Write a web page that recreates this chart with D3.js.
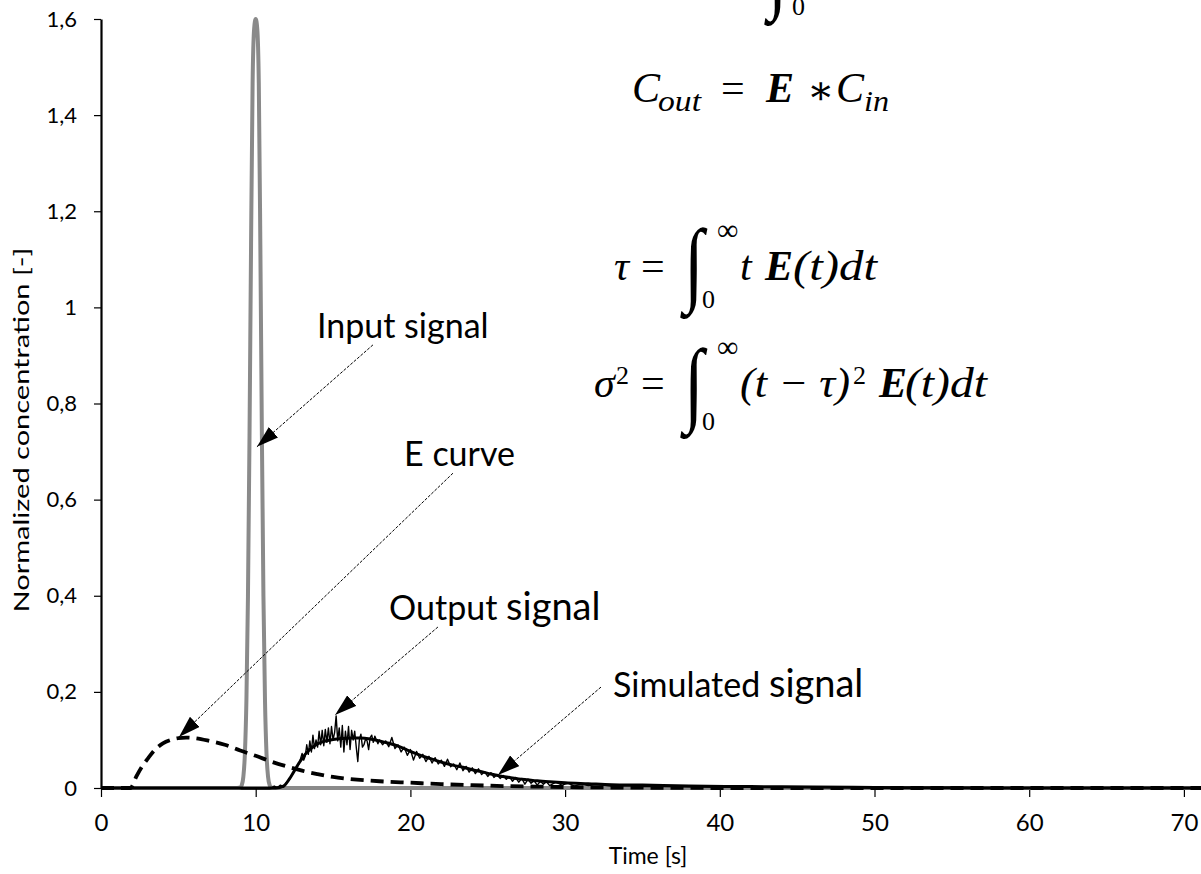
<!DOCTYPE html>
<html><head><meta charset="utf-8">
<script src="https://cdn.jsdelivr.net/npm/d3@7"></script>
<style>
html,body{margin:0;padding:0;background:#fff;}
svg{display:block;}
</style>
</head><body>
<svg id="chart" width="1201" height="874"></svg>
<script>
// ---------- data ----------
const xTicks = [0, 10, 20, 30, 40, 50, 60, 70];
const yTicks = [0, 0.2, 0.4, 0.6, 0.8, 1.0, 1.2, 1.4, 1.6];

// Input signal (grey pulse at t = 10 s)
const inputT = [0, 8.8, 9.0, 9.1, 9.2, 9.3, 9.4, 9.5, 9.6, 9.7, 9.8, 9.9, 10.0, 10.1, 10.2, 10.3, 10.4, 10.5, 10.6, 10.7, 10.8, 10.9, 11.0, 11.2, 80];
const inputV = [0, 0, 0.001, 0.006, 0.023, 0.070, 0.183, 0.399, 0.733, 1.131, 1.467, 1.58, 1.6, 1.58, 1.467, 1.131, 0.733, 0.399, 0.183, 0.070, 0.023, 0.006, 0.001, 0, 0];

// E curve (dashed)
const eT = [0, 1.9, 2.3, 2.7, 3.0, 3.5, 4.0, 4.5, 5.0, 5.5, 6.0, 7.0, 8.0, 9.0, 10, 11, 12, 13, 14, 15, 16, 18, 20, 22, 24, 26, 28, 30, 33, 36, 40, 80];
const eV = [0, 0, 0.025, 0.047, 0.06, 0.08, 0.093, 0.1, 0.104, 0.105, 0.104, 0.098, 0.09, 0.078, 0.067, 0.055, 0.045, 0.036, 0.029, 0.023, 0.019, 0.014, 0.011, 0.008, 0.006, 0.004, 0.003, 0.002, 0.001, 0.0005, 0, 0];

// Simulated signal (thick smooth)
const simT = [0, 11.3, 11.8, 12.3, 12.8, 13.3, 13.8, 14.3, 15, 15.6, 16.2, 16.8, 17.4, 18, 18.6, 19.2, 19.8, 20.4, 21, 21.6, 22.2, 22.8, 23.4, 24, 24.6, 25.2, 25.8, 26.4, 27, 27.6, 28.2, 29, 30, 31.5, 33, 35, 38, 42, 46, 50, 55, 60, 80];
const simV = [0, 0, 0.004, 0.025, 0.052, 0.074, 0.088, 0.096, 0.101, 0.103, 0.104, 0.104, 0.102, 0.098, 0.093, 0.087, 0.079, 0.071, 0.064, 0.058, 0.052, 0.047, 0.043, 0.038, 0.034, 0.029, 0.025, 0.022, 0.019, 0.017, 0.015, 0.013, 0.011, 0.009, 0.007, 0.006, 0.004, 0.003, 0.002, 0.001, 0.0005, 0, 0];

// Output signal (measured, noisy)
const outT = [0, 11.0, 11.2, 11.4, 11.6, 11.8, 12.0, 12.2, 12.4, 12.6, 12.8, 13.0, 13.1, 13.2, 13.3, 13.4, 13.5, 13.6, 13.7, 13.8, 13.9, 14.0, 14.1, 14.2, 14.3, 14.4, 14.5, 14.6, 14.7, 14.8, 14.9, 15.0, 15.1, 15.2, 15.3, 15.4, 15.5, 15.6, 15.7, 15.8, 15.9, 16.0, 16.1, 16.2, 16.3, 16.4, 16.5, 16.6, 16.7, 16.8, 16.9, 17.0, 17.1, 17.2, 17.3, 17.4, 17.5, 17.6, 17.7, 17.8, 17.9, 18.0, 18.2, 18.4, 18.6, 18.8, 19.0, 19.2, 19.4, 19.6, 19.8, 20.0, 20.2, 20.4, 20.6, 20.8, 21.0, 21.2, 21.4, 21.6, 21.8, 22.0, 22.2, 22.4, 22.6, 22.8, 23.0, 23.2, 23.4, 23.6, 23.8, 24.0, 24.2, 24.4, 24.6, 24.8, 25.0, 25.2, 25.4, 25.6, 25.8, 26.0, 26.2, 26.4, 26.6, 26.8, 27.0, 27.2, 27.4, 27.6, 27.8, 28.0, 28.2, 28.4, 28.6, 28.8, 29.0, 29.4, 29.8, 30.2, 30.6, 31.0, 31.5, 32.0, 33.0, 34.0, 35.0, 37.0, 40.0, 45.0, 50.0, 80];
const outV = [0, 0, 0.004, 0.001, 0.006, 0.002, 0.012, 0.018, 0.03, 0.04, 0.05, 0.072, 0.058, 0.066, 0.09, 0.07, 0.098, 0.075, 0.11, 0.082, 0.1, 0.085, 0.118, 0.09, 0.12, 0.088, 0.122, 0.095, 0.125, 0.092, 0.128, 0.1, 0.115, 0.15, 0.098, 0.125, 0.085, 0.13, 0.075, 0.118, 0.09, 0.128, 0.08, 0.12, 0.1, 0.118, 0.085, 0.055, 0.1, 0.112, 0.085, 0.09, 0.102, 0.098, 0.08, 0.105, 0.11, 0.095, 0.108, 0.1, 0.092, 0.1, 0.09, 0.098, 0.086, 0.105, 0.082, 0.09, 0.075, 0.085, 0.068, 0.08, 0.058, 0.076, 0.062, 0.07, 0.055, 0.066, 0.052, 0.063, 0.05, 0.058, 0.045, 0.06, 0.044, 0.05, 0.038, 0.052, 0.036, 0.045, 0.033, 0.042, 0.03, 0.04, 0.028, 0.034, 0.024, 0.032, 0.022, 0.028, 0.02, 0.026, 0.018, 0.024, 0.014, 0.022, 0.012, 0.02, 0.008, 0.018, 0.01, 0.015, 0.006, 0.014, 0.008, 0.013, 0.005, 0.012, 0.006, 0.01, 0.004, 0.008, 0.005, 0.007, 0.004, 0.005, 0.003, 0.003, 0.002, 0.001, 0.001, 0];

// Annotations: label text, label anchor (t, v), arrow start (t, v), arrow tip (t, v)
const annFirst = ["Input signal", "E curve", "Output ", "Simulated "];
const annSecond = ["", "", "signal", "signal"];
const annTextT = [13.96, 19.59, 18.62, 33.1];
const annTextV = [0.936, 0.67, 0.35, 0.189];
const annFromT = [17.58, 22.75, 21.78, 32.32];
const annFromV = [0.922, 0.655, 0.335, 0.21];
const annToT = [10.08, 5.04, 15.13, 25.66];
const annToV = [0.71, 0.106, 0.152, 0.027];

// ---------- layout ----------
const svg = d3.select("#chart");
const x = d3.scaleLinear().domain([0, 80]).range([101, 101 + 80 * 15.47]);
const y = d3.scaleLinear().domain([0, 1.6]).range([788, 19]);
const labelFont = "Lato, 'Open Sans', sans-serif";
const mathFont = "'Liberation Serif', 'DejaVu Serif', serif";

const zip = (ts, vs) => ts.map((t, i) => [t, vs[i]]);
const line = (curve) => d3.line().x(d => x(d[0])).y(d => y(d[1])).curve(curve);

// axes (drawn first so the series lie on top)
const fmt = d => d3.format(".1f")(d).replace(/\.0$/, "").replace(".", ",");
const yAxis = svg.append("g").attr("transform", `translate(${x(0)},0)`)
  .call(d3.axisLeft(y).tickValues(yTicks).tickFormat(fmt).tickSize(7).tickSizeOuter(0).tickPadding(17));
yAxis.select(".domain").attr("stroke-width", 2.2);
yAxis.selectAll(".tick line").attr("stroke-width", 1.2);
yAxis.selectAll("text").attr("font-family", labelFont).attr("font-size", 22).attr("fill", "#000");

const xAxis = svg.append("g").attr("transform", `translate(0,${y(0)})`)
  .call(d3.axisBottom(x).tickValues(xTicks).tickFormat(d3.format("d")).tickSize(9).tickSizeOuter(0).tickPadding(17));
xAxis.select(".domain").attr("stroke-width", 2.5);
xAxis.selectAll(".tick line").attr("stroke-width", 1.2);
xAxis.selectAll("text").attr("font-family", labelFont).attr("font-size", 24).attr("fill", "#000");

svg.append("text").attr("x", 648).attr("y", 864).attr("text-anchor", "middle")
  .attr("font-family", labelFont).attr("font-size", 23).text("Time [s]");
svg.append("text").attr("transform", `translate(29,430) rotate(-90)`).attr("text-anchor", "middle")
  .attr("font-family", labelFont).attr("font-size", 22)
  .attr("textLength", 365).attr("lengthAdjust", "spacingAndGlyphs")
  .text("Normalized concentration [-]");

// series
svg.append("path").datum(zip(inputT, inputV))
  .attr("d", line(d3.curveMonotoneX)).attr("fill", "none")
  .attr("stroke", "#8a8a8a").attr("stroke-width", 4);

svg.append("path").datum(zip(eT, eV))
  .attr("d", line(d3.curveMonotoneX)).attr("fill", "none")
  .attr("stroke", "#000").attr("stroke-width", 3.8).attr("stroke-dasharray", "13,7");

svg.append("path").datum(zip(outT, outV))
  .attr("d", line(d3.curveLinear)).attr("fill", "none")
  .attr("stroke", "#000").attr("stroke-width", 1.4).attr("stroke-linejoin", "round");

svg.append("path").datum(zip(simT, simV))
  .attr("d", line(d3.curveMonotoneX)).attr("fill", "none")
  .attr("stroke", "#000").attr("stroke-width", 3);

// annotations
svg.append("defs").append("marker").attr("id", "ah")
  .attr("viewBox", "0 0 22 14").attr("refX", 22).attr("refY", 7)
  .attr("markerWidth", 22).attr("markerHeight", 14).attr("markerUnits", "userSpaceOnUse")
  .attr("orient", "auto")
  .append("path").attr("d", "M0,0 L22,7 L0,14 Z").attr("fill", "#000");

annFirst.forEach((lab, i) => {
  svg.append("line")
    .attr("x1", x(annFromT[i])).attr("y1", y(annFromV[i]))
    .attr("x2", x(annToT[i])).attr("y2", y(annToV[i]))
    .attr("stroke", "#000").attr("stroke-width", 1).attr("stroke-dasharray", "3,1.5")
    .attr("marker-end", "url(#ah)");
  const t = svg.append("text").attr("x", x(annTextT[i])).attr("y", y(annTextV[i]))
    .attr("font-family", labelFont).attr("font-size", 34).attr("fill", "#000")
    .attr("xml:space", "preserve").style("white-space", "pre");
  t.append("tspan").text(lab);
  if (annSecond[i]) t.append("tspan").attr("font-size", 38).text(annSecond[i]);
});

// formulas
function mt(xp, yp, str, size, opts = {}) {
  const t = svg.append("text").attr("x", xp).attr("y", yp)
    .attr("font-family", opts.family || mathFont)
    .attr("font-size", size)
    .attr("font-style", opts.upright ? "normal" : "italic")
    .attr("font-weight", opts.bold ? "bold" : "normal")
    .attr("fill", "#000").text(str);
  if (opts.len) t.attr("textLength", opts.len).attr("lengthAdjust", "spacingAndGlyphs");
  return t;
}
function integral(xp, yp) {
  svg.append("text").attr("transform", `translate(${xp},${yp}) scale(1,1.3)`)
    .attr("font-family", mathFont).attr("font-size", 72).attr("fill", "#000")
    .text("\u222B");
}
// top (cut) formula
integral(768, 1);
mt(792, 15, "0", 26, {upright: true});

// C_out = E * C_in
mt(632, 102, "C", 42);
mt(658, 111, "out", 30, {len: 43});
mt(721, 102, "=", 42, {upright: true});
mt(766, 102, "E", 42, {bold: true});
mt(807, 104, "\u2217", 40, {upright: true});
mt(836, 102, "C", 42);
mt(864, 111, "in", 30, {len: 25});

// tau
mt(614, 280, "\u03C4", 42);
mt(641, 280, "=", 42, {upright: true});
integral(684, 294);
mt(717, 240, "\u221E", 30, {upright: true});
mt(702, 308, "0", 26, {upright: true});
mt(740, 280, "t", 42);
mt(765, 280, "E", 42, {bold: true});
mt(793, 280, "(t)dt", 42, {len: 84});

// sigma^2
mt(594, 397, "\u03C3", 42);
mt(616, 384, "2", 26, {upright: true});
mt(641, 397, "=", 42, {upright: true});
integral(684, 414);
mt(717, 357, "\u221E", 30, {upright: true});
mt(702, 430, "0", 26, {upright: true});
mt(740, 397, "(t \u2212 \u03C4)", 42, {len: 110});
mt(853, 384, "2", 26, {upright: true});
mt(879, 397, "E", 42, {bold: true});
mt(905, 397, "(t)dt", 42, {len: 82});
</script>
</body></html>
